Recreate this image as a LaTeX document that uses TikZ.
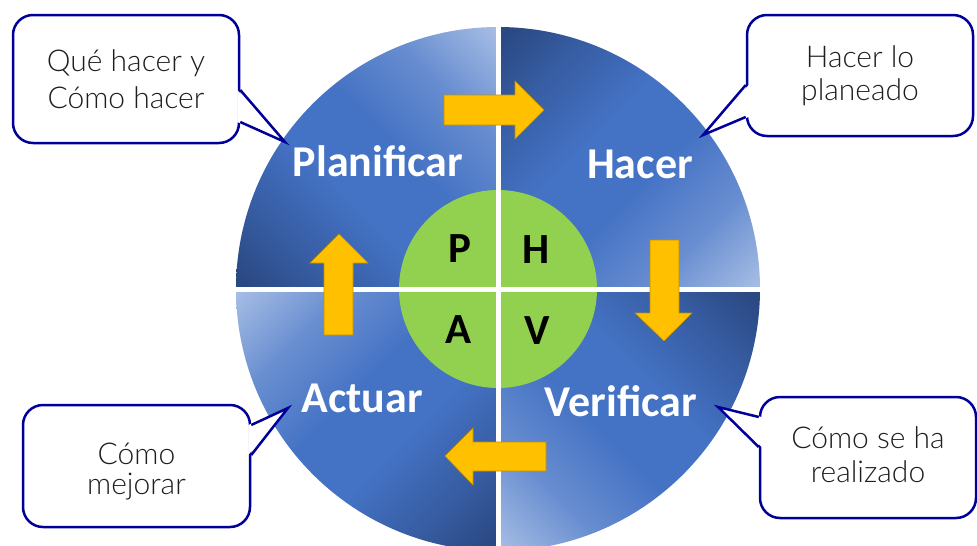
\documentclass[tikz,border=0pt]{standalone}
\usepackage{fontspec}
\setmainfont{Carlito}
\IfFontExistsTF{Lato Light}{\newfontfamily\notafont{Lato Light}}{\newfontfamily\notafont{Lato}}
\usetikzlibrary{positioning}

\definecolor{azulosc}{RGB}{42,72,130}
\definecolor{azulmed}{RGB}{68,114,196}
\definecolor{azulcla}{RGB}{170,192,230}
\definecolor{verde}{RGB}{146,208,80}
\definecolor{amarillo}{RGB}{255,192,0}
\definecolor{borde}{RGB}{191,144,0}
\definecolor{marino}{RGB}{0,0,153}
\definecolor{tinta}{RGB}{30,30,30}

% claro abajo, oscuro arriba
\pgfdeclareverticalshading{cuadro}{100bp}{color(0bp)=(azulcla); color(14bp)=(azulcla); color(30bp)=(azulcla!35!azulmed); color(45bp)=(azulmed); color(58bp)=(azulmed); color(72bp)=(azulmed!50!azulosc); color(84bp)=(azulosc); color(100bp)=(azulosc)}

\tikzset{
	etiqueta/.style={text=white,font=\fontsize{44}{50}\selectfont\bfseries,anchor=base,inner sep=0},
	letra/.style={text=black,font=\fontsize{43}{50}\selectfont\bfseries,anchor=base,inner sep=0},
	flecha/.style={fill=amarillo,draw=borde,line width=0.6pt},
	nube/.style={draw=marino,line width=2.5pt,fill=white,rounded corners=20pt,align=center,inner sep=0,text=tinta},
	pico/.style={draw=marino,line width=2.5pt,line join=miter}
}

\begin{document}
\begin{tikzpicture}[x=1pt,y=-1pt]
	\useasboundingbox (0,0) rectangle (977,546);
	% circulo en cuatro cuadrantes
	\begin{scope}
		\clip (498,289) circle (262);
		\shade[shading=cuadro,shading angle=135] (236,27) rectangle (498,289);
		\shade[shading=cuadro,shading angle=45] (498,27) rectangle (760,289);
		\shade[shading=cuadro,shading angle=-45] (498,289) rectangle (760,551);
		\shade[shading=cuadro,shading angle=-135] (236,289) rectangle (498,551);
	\end{scope}
	\fill[verde] (498,289) circle (99);
	\draw[white,line width=5pt] (498,20) -- (498,546);
	\draw[white,line width=5pt] (230,289) -- (770,289);
	\node[etiqueta] (plan) at (378,176) {Planificar};
	\node[etiqueta] (hacer) at (640,178) {Hacer};
	\node[etiqueta] (verif) at (621,416) {Verificar};
	\node[etiqueta] (actuar) at (362,412) {Actuar};
	\node[letra] (p) at (460,262) {P};
	\node[letra] (h) at (536,263) {H};
	\node[letra] (a) at (459,343) {A};
	\node[letra] (v) at (537,344) {V};
	% flechas
	\filldraw[flecha] (444,95) -- (515,95) -- (515,81) -- (544,110) -- (515,139) -- (515,125) -- (444,125) -- cycle;
	\filldraw[flecha] (650,240) -- (679,240) -- (679,313) -- (692,313) -- (664,341) -- (635,313) -- (650,313) -- cycle;
	\filldraw[flecha] (546,442) -- (546,471) -- (473,471) -- (473,485) -- (445,456) -- (473,428) -- (473,442) -- cycle;
	\filldraw[flecha] (324,335) -- (324,263) -- (310,263) -- (339,234) -- (368,263) -- (353,263) -- (353,335) -- cycle;
	% notas
	\node[nube,minimum width=226pt,minimum height=128pt,font=\notafont\fontsize{30}{37}\selectfont] (q1) at (126,79) {Qué hacer y\\Cómo hacer};
	\node[nube,minimum width=226pt,minimum height=121pt,font=\notafont\fontsize{30}{33}\selectfont] (q2) at (860,75.5) {Hacer lo\\planeado};
	\node[nube,minimum width=227pt,minimum height=122pt,font=\notafont\fontsize{30}{30}\selectfont] (q3) at (136.5,466) {\rule{0pt}{32pt}Cómo\\mejorar};
	\node[nube,minimum width=216pt,minimum height=121pt,font=\notafont\fontsize{30}{34}\selectfont] (q4) at (868,457.5) {Cómo se ha\\realizado\rule[-6pt]{0pt}{0pt}};
	\coordinate (t1) at (285,142);
	\coordinate (t2) at (703,135);
	\coordinate (t3) at (288,408);
	\coordinate (t4) at (718,407);
	\fill[white] ([xshift=-3pt,yshift=-11pt]q1.east) -- (t1) -- ([xshift=-3pt,yshift=-43pt]q1.east) -- cycle;
	\draw[pico] ([yshift=-11pt]q1.east) -- (t1) -- ([yshift=-43pt]q1.east);
	\fill[white] ([xshift=3pt,yshift=-9.5pt]q2.west) -- (t2) -- ([xshift=3pt,yshift=-41.5pt]q2.west) -- cycle;
	\draw[pico] ([yshift=-9.5pt]q2.west) -- (t2) -- ([yshift=-41.5pt]q2.west);
	\fill[white] ([xshift=-3pt,yshift=41pt]q3.east) -- (t3) -- ([xshift=-3pt,yshift=11pt]q3.east) -- cycle;
	\draw[pico] ([yshift=41pt]q3.east) -- (t3) -- ([yshift=11pt]q3.east);
	\fill[white] ([xshift=3pt,yshift=40.5pt]q4.west) -- (t4) -- ([xshift=3pt,yshift=10.5pt]q4.west) -- cycle;
	\draw[pico] ([yshift=40.5pt]q4.west) -- (t4) -- ([yshift=10.5pt]q4.west);
\end{tikzpicture}
\end{document}
